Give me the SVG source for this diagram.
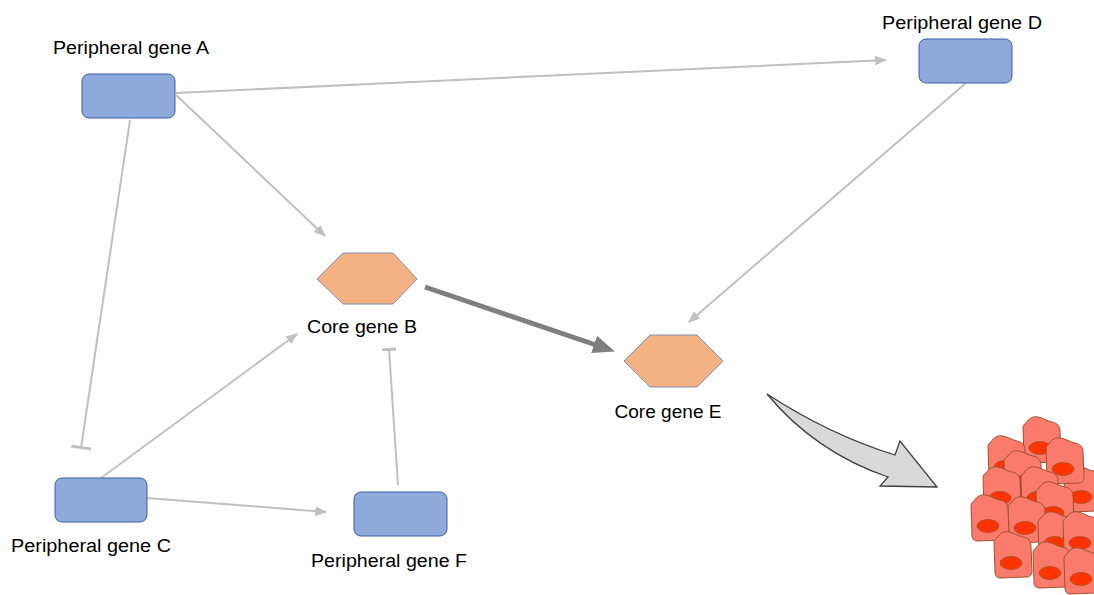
<svg xmlns="http://www.w3.org/2000/svg" xmlns:xlink="http://www.w3.org/1999/xlink" width="1094" height="595" viewBox="0 0 1094 595">
  <style>
    .label { font-family: "Liberation Sans", Arial, sans-serif; font-size: 18px; fill: #000; text-anchor: middle; }
    .gene { fill: #8EAADB; stroke: #3B5FA8; stroke-width: 1; }
    .core { fill: #F4B183; stroke: #7F8FB5; stroke-width: 1; }
    .link { stroke: #C0C0C0; stroke-width: 2; fill: none; }
    .main { stroke: #7F7F7F; stroke-width: 5; fill: none; }
    .cell-body { fill: #FA7A6C; stroke: #A0522D; stroke-width: 1; }
    .nucleus { fill: #FF3300; stroke: #A0522D; stroke-width: 0.8; }
  </style>
  <defs>
    <marker id="arr" markerUnits="userSpaceOnUse" markerWidth="12" markerHeight="12" viewBox="0 0 10 10" refX="9" refY="5" orient="auto">
      <path d="M0,1 L10,5 L0,9 Z" fill="#C0C0C0"/>
    </marker>
    <marker id="arrMain" markerUnits="userSpaceOnUse" markerWidth="22" markerHeight="20" viewBox="0 0 22 20" refX="2" refY="10" orient="auto">
      <path d="M0,1 L22,10 L0,19 Z" fill="#7F7F7F"/>
    </marker>
    <marker id="tee" markerUnits="userSpaceOnUse" markerWidth="4" markerHeight="20" viewBox="0 0 4 20" refX="2" refY="10" orient="auto">
      <rect x="0" y="0" width="3" height="20" fill="#C0C0C0"/>
    </marker>
    <marker id="teeSmall" markerUnits="userSpaceOnUse" markerWidth="4" markerHeight="14" viewBox="0 0 4 14" refX="2" refY="7" orient="auto">
      <rect x="0" y="0" width="3" height="14" fill="#C0C0C0"/>
    </marker>
    <g id="cell">
      <path class="cell-body" d="M3,7 C6,2 10,0 15,1 C20,2 24,5 29,6 C34,7 37,10 37,15 L38,40 C38,44 36,46 32,46 L7,47 C3,47 1,45 1,41 L0,12 C0,10 1,8 3,7 Z"/>
      <ellipse class="nucleus" cx="17" cy="32" rx="11" ry="6.5"/>
    </g>
  </defs>

  <rect width="1094" height="595" fill="#FFFFFF"/>

  <!-- connectors -->
  <g id="connectors">
    <line class="link" x1="176" y1="93" x2="886" y2="60" marker-end="url(#arr)"/>
    <line class="link" x1="176" y1="95" x2="325" y2="236" marker-end="url(#arr)"/>
    <line class="link" x1="130" y1="120" x2="81" y2="448" marker-end="url(#tee)"/>
    <line class="link" x1="966" y1="83" x2="689" y2="322" marker-end="url(#arr)"/>
    <line class="link" x1="101" y1="478" x2="297" y2="334" marker-end="url(#arr)"/>
    <line class="link" x1="147" y1="498" x2="326" y2="512" marker-end="url(#arr)"/>
    <line class="link" x1="398" y1="485" x2="389" y2="349" marker-end="url(#teeSmall)"/>
    <line class="main" x1="425" y1="287" x2="596" y2="345" marker-end="url(#arrMain)"/>
  </g>

  <!-- peripheral genes -->
  <g id="geneA">
    <rect class="gene" x="82" y="74" width="93" height="44" rx="7"/>
    <text class="label" x="131" y="54" textLength="156" lengthAdjust="spacingAndGlyphs">Peripheral gene A</text>
  </g>
  <g id="geneD">
    <rect class="gene" x="919" y="39" width="93" height="44" rx="7"/>
    <text class="label" x="962" y="29" textLength="160" lengthAdjust="spacingAndGlyphs">Peripheral gene D</text>
  </g>
  <g id="geneC">
    <rect class="gene" x="55" y="478" width="92" height="44" rx="7"/>
    <text class="label" x="91" y="552" textLength="160" lengthAdjust="spacingAndGlyphs">Peripheral gene C</text>
  </g>
  <g id="geneF">
    <rect class="gene" x="354" y="492" width="93" height="44" rx="7"/>
    <text class="label" x="389" y="567" textLength="156" lengthAdjust="spacingAndGlyphs">Peripheral gene F</text>
  </g>

  <!-- core genes -->
  <g id="coreB">
    <polygon class="core" points="317,279 343,253 393,253 417,279 393,304 343,304"/>
    <text class="label" x="362" y="333" textLength="110" lengthAdjust="spacingAndGlyphs">Core gene B</text>
  </g>
  <g id="coreE">
    <polygon class="core" points="624,361 650,335 697,335 723,361 697,387 650,387"/>
    <text class="label" x="668" y="418" textLength="107" lengthAdjust="spacingAndGlyphs">Core gene E</text>
  </g>

  <!-- outcome arrow -->
  <g id="outcomeArrow">
    <path d="M767,394 Q830,435 895,455 L900,441 L937,487 L880,486 L888,477 Q815,452 767,394 Z" fill="#D9D9D9" stroke="#3F3F3F" stroke-width="1.3" stroke-linejoin="miter"/>
  </g>

  <!-- tumour cell cluster -->
  <g id="tumour">
    <use xlink:href="#cell" transform="translate(1023,416)"/>
    <use xlink:href="#cell" transform="translate(988,435)"/>
    <use xlink:href="#cell" transform="translate(1004,450)"/>
    <use xlink:href="#cell" transform="translate(1064,465)"/>
    <use xlink:href="#cell" transform="translate(1046,437)"/>
    <use xlink:href="#cell" transform="translate(1021,466)"/>
    <use xlink:href="#cell" transform="translate(1036,481)"/>
    <use xlink:href="#cell" transform="translate(983,466)"/>
    <use xlink:href="#cell" transform="translate(1008,496)"/>
    <use xlink:href="#cell" transform="translate(971,494)"/>
    <use xlink:href="#cell" transform="translate(1038,511)"/>
    <use xlink:href="#cell" transform="translate(1063,511)"/>
    <use xlink:href="#cell" transform="translate(994,531)"/>
    <use xlink:href="#cell" transform="translate(1033,541)"/>
    <use xlink:href="#cell" transform="translate(1064,547)"/>
  </g>
</svg>
